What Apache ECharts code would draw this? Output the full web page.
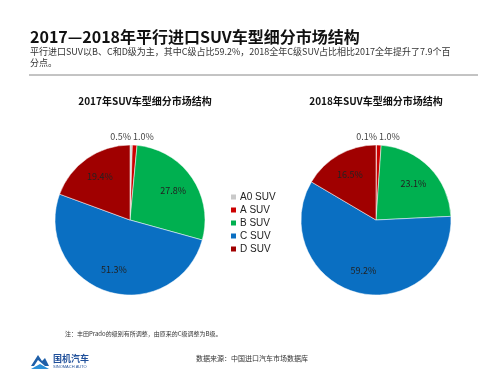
<!DOCTYPE html>
<html>
<head>
<meta charset="utf-8">
<script src="https://cdn.jsdelivr.net/npm/echarts@6/dist/echarts.min.js"></script>
<style>
  html, body { margin: 0; padding: 0; background: #fff; }
  #main { width: 500px; height: 375px; }
</style>
</head>
<body>
<div id="main"></div>
<script>
// 数据
var categories = ["A0 SUV", "A SUV", "B SUV", "C SUV", "D SUV"];
var share2017 = [0.5, 1.0, 27.8, 51.3, 19.4];
var share2018 = [0.1, 1.0, 23.1, 59.2, 16.5];
var colors = ["#c9c9c9", "#cc0000", "#00b050", "#0a6fc2", "#a00000"];

var font = "'Noto Sans CJK SC', 'Noto Sans', sans-serif";

function buildData(values) {
  return categories.map(function (name, i) {
    return { name: name, value: values[i] };
  });
}

// 主饼图：小扇区的标签放在顶部
function mainPie(values, center) {
  return {
    type: "pie",
    center: center,
    radius: 75,
    startAngle: 90,
    clockwise: true,
    silent: true,
    itemStyle: { borderColor: "#fff", borderWidth: 0.5 },
    label: {
      show: true,
      position: "outside",
      fontSize: 9,
      color: "#444",
      fontFamily: font,
      formatter: function (p) {
        return p.value < 2 ? p.value.toFixed(1) + "%" : "";
      }
    },
    labelLine: { show: false },
    // 两个小扇区的标签并排放在饼顶上
    labelLayout: function (params) {
      if (params.dataIndex > 1) {
        return {};
      }
      return {
        x: center[0] + (params.dataIndex === 0 ? 1 : 3),
        y: center[1] - 75 - 8,
        align: params.dataIndex === 0 ? "right" : "left",
        verticalAlign: "middle"
      };
    },
    data: buildData(values)
  };
}

// 透明的覆盖层，只用来放扇区内的百分比
function labelPie(values, center) {
  return {
    type: "pie",
    center: center,
    radius: [24, 75],
    startAngle: 90,
    clockwise: true,
    silent: true,
    itemStyle: { color: "transparent" },
    label: {
      show: true,
      position: "inside",
      fontSize: 9,
      color: "#222",
      fontFamily: font,
      formatter: function (p) {
        return p.value >= 2 ? p.value.toFixed(1) + "%" : "";
      }
    },
    labelLine: { show: false },
    data: buildData(values)
  };
}

var chart = echarts.init(document.getElementById("main"));
var option = {
  color: colors,
  animation: false,
  title: [
    {
      text: "2017年SUV车型细分市场结构",
      left: 140, top: 91, textAlign: "center",
      textStyle: { fontSize: 10, fontWeight: "bold", color: "#111", fontFamily: font }
    },
    {
      text: "2018年SUV车型细分市场结构",
      left: 371, top: 91, textAlign: "center",
      textStyle: { fontSize: 10, fontWeight: "bold", color: "#111", fontFamily: font }
    }
  ],
  legend: {
    orient: "vertical",
    left: 224,
    top: 187,
    itemWidth: 7,
    itemHeight: 7,
    itemGap: 3,
    icon: "rect",
    data: categories,
    textStyle: { fontSize: 10, color: "#222", fontFamily: "'Liberation Sans', Arial, sans-serif", padding: [0, 0, 0, -2] }
  },
  graphic: [
    {
      type: "text", left: 30, top: 29,
      style: { text: "2017—2018年平行进口SUV车型细分市场结构", font: "bold 16px " + font, fill: "#111" }
    },
    {
      type: "text", left: 30, top: 46,
      style: {
        text: "平行进口SUV以B、C和D级为主，其中C级占比59.2%，2018全年C级SUV占比相比2017全年提升了7.9个百\n分点。",
        font: "9px " + font, fill: "#333", lineHeight: 11
      }
    },
    {
      type: "line", shape: { x1: 29, y1: 75, x2: 478, y2: 75 },
      style: { stroke: "#888", lineWidth: 1 }
    },
    {
      type: "text", left: 65, top: 331,
      style: { text: "注：丰田Prado的级别有所调整，由原来的C级调整为B级。", font: "6px " + font, fill: "#333" }
    },
    {
      type: "text", left: 196, top: 355,
      style: { text: "数据来源：中国进口汽车市场数据库", font: "7px " + font, fill: "#333" }
    },
    {
      type: "polygon",
      shape: { points: [[31, 366], [38, 355], [42, 361], [45, 358], [49, 366], [45, 366], [38, 360], [34, 366]] },
      style: { fill: "#1f5fa8" }
    },
    {
      type: "polygon",
      shape: { points: [[31, 369], [40, 364], [49, 369]] },
      style: { fill: "#2a8fd8" }
    },
    {
      type: "text", left: 53, top: 354,
      style: { text: "国机汽车", font: "bold 9px " + font, fill: "#1f4f9a" }
    },
    {
      type: "text", left: 53, top: 365,
      style: { text: "SINOMACH AUTO", font: "4px sans-serif", fill: "#1f4f9a" }
    }
  ],
  series: [
    mainPie(share2017, [130, 220]),
    mainPie(share2018, [376, 220]),
    labelPie(share2017, [130, 220]),
    labelPie(share2018, [376, 220])
  ]
};
chart.setOption(option);
</script>
</body>
</html>
